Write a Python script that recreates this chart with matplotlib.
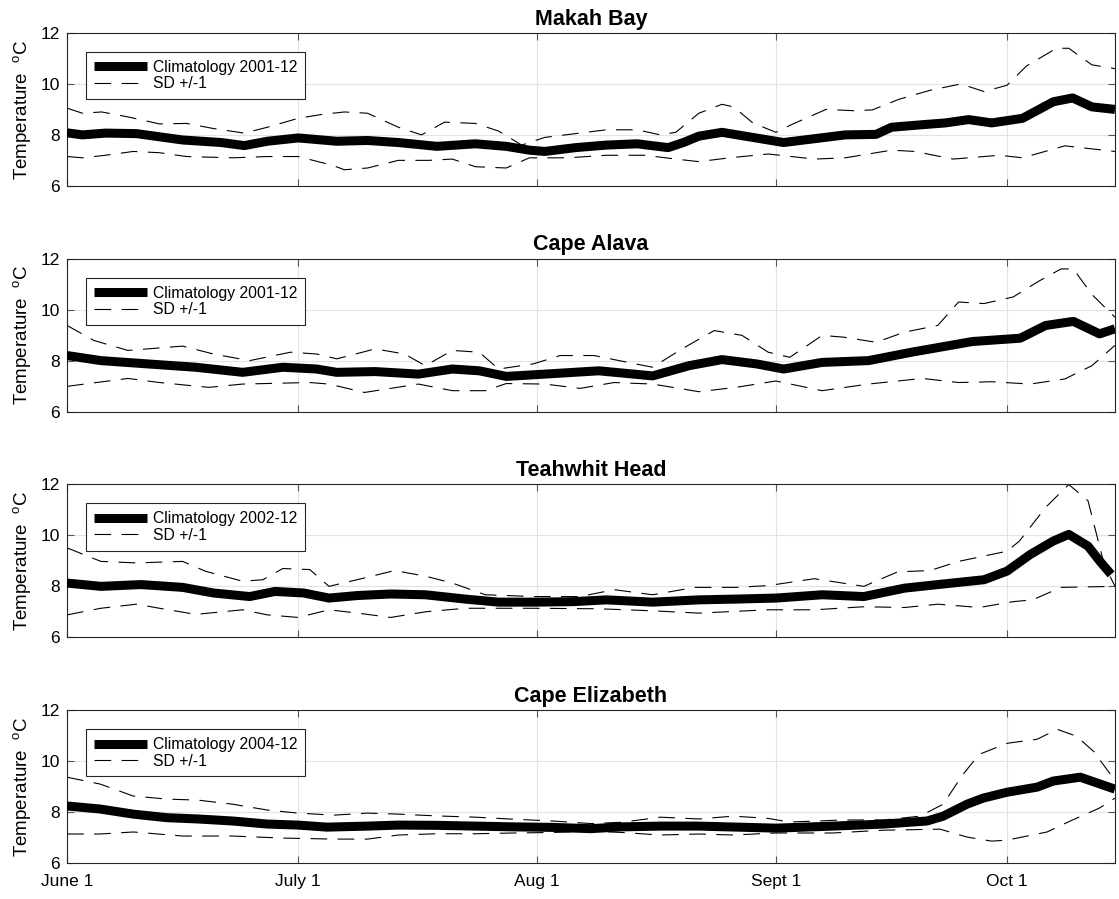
import matplotlib
matplotlib.use('Agg')
import matplotlib.pyplot as plt

plt.rcParams['font.family'] = ['Liberation Sans', 'DejaVu Sans']
plt.rcParams['mathtext.fontset'] = 'custom'
plt.rcParams['mathtext.rm'] = 'Liberation Sans'
plt.rcParams['lines.scale_dashes'] = False

# days since June 1
tick_days = [0, 30, 61, 92, 122]
tick_labels = ['June 1', 'July 1', 'Aug 1', 'Sept 1', 'Oct 1']

stations = ['Makah Bay', 'Cape Alava', 'Teahwhit Head', 'Cape Elizabeth']
periods = ['2001-12', '2001-12', '2002-12', '2004-12']

# Makah Bay
makah_mean_days = [0, 2, 5, 9, 15, 20, 23, 26, 30, 35, 39, 43, 48, 53, 57, 60, 62, 66, 70, 74, 78, 80, 82, 85,
                   88, 93, 97, 101, 105, 107, 111, 114, 117, 120, 124, 128, 130.5, 133, 136]
makah_mean = [8.08, 8.0, 8.07, 8.05, 7.8, 7.7, 7.58, 7.75, 7.88, 7.75, 7.78, 7.7, 7.55, 7.65, 7.55, 7.4, 7.35,
              7.5, 7.6, 7.65, 7.5, 7.7, 7.95, 8.1, 7.95, 7.7, 7.85, 8.0, 8.02, 8.3, 8.4, 8.47, 8.6, 8.47, 8.65,
              9.3, 9.45, 9.1, 9.0]
makah_up_days = [0, 2, 4.5, 8, 12, 15.5, 19, 23, 26, 30, 33, 36, 39, 43, 46, 49, 53, 56, 59, 62, 66, 70, 74,
                 77, 79, 82, 85, 86.5, 89, 92, 94, 98.5, 102, 104.5, 108, 112, 116, 119, 122, 124.5, 128.4, 130,
                 133, 136]
makah_up = [9.05, 8.85, 8.9, 8.7, 8.43, 8.45, 8.25, 8.07, 8.3, 8.65, 8.8, 8.9, 8.85, 8.3, 8.0, 8.5, 8.45, 8.15,
            7.6, 7.9, 8.05, 8.2, 8.2, 8.0, 8.1, 8.85, 9.2, 9.1, 8.47, 8.1, 8.4, 9.0, 8.95, 8.98, 9.4, 9.75,
            10.0, 9.7, 9.95, 10.7, 11.4, 11.4, 10.75, 10.6]
makah_lo_days = [0, 2, 5, 8.6, 12, 15.5, 21.6, 26, 30, 34.5, 36, 39, 43, 47, 50, 53, 57, 60, 65, 70, 75, 79,
                 82, 86, 91, 97, 101, 107, 110, 115, 121, 124, 129.5, 136]
makah_lo = [7.15, 7.1, 7.2, 7.35, 7.3, 7.15, 7.1, 7.15, 7.15, 6.8, 6.63, 6.7, 7.0, 7.0, 7.05, 6.75, 6.7, 7.1,
            7.1, 7.2, 7.2, 7.05, 6.95, 7.1, 7.25, 7.05, 7.1, 7.4, 7.35, 7.05, 7.2, 7.1, 7.57, 7.35]

# Cape Alava
alava_mean_days = [0, 4.4, 10.5, 16.7, 22.8, 28, 32.4, 35, 40, 45.6, 50, 53.5, 57, 62, 69, 76, 80.7, 85, 89.5,
                   93, 98, 104, 109.6, 117.5, 123.7, 127, 130.6, 134, 136]
alava_mean = [8.2, 8.0, 7.87, 7.74, 7.54, 7.74, 7.67, 7.54, 7.57, 7.47, 7.67, 7.6, 7.38, 7.47, 7.6, 7.4, 7.8,
              8.04, 7.87, 7.67, 7.93, 8.0, 8.33, 8.75, 8.88, 9.38, 9.54, 9.05, 9.25]
alava_up_days = [0, 3.5, 7.9, 15, 19, 23.7, 29, 32.4, 35, 40, 43.8, 46.5, 50, 53.5, 56, 60.5, 64, 68.4, 72.8,
                 76, 79.8, 84, 87.6, 91, 93.8, 98, 100.8, 105, 108.7, 113, 115.7, 119, 122.8, 126, 129,
                 130.6, 133, 136]
alava_up = [9.38, 8.79, 8.4, 8.57, 8.26, 8.0, 8.33, 8.26, 8.07, 8.46, 8.26, 7.8, 8.4, 8.33, 7.67, 7.87, 8.2,
            8.2, 7.93, 7.74, 8.46, 9.18, 8.99, 8.33, 8.13, 8.99, 8.92, 8.72, 9.12, 9.38, 10.3, 10.24, 10.5,
            11.1, 11.6, 11.6, 10.6, 9.7]
alava_lo_days = [0, 7.9, 12, 18.4, 22.8, 31.5, 34, 38.6, 45.6, 50, 54.3, 57, 62, 66.6, 71, 76, 82, 86.8, 92,
                 98, 104, 111, 115.7, 120, 125, 129.5, 133, 136]
alava_lo = [6.99, 7.3, 7.14, 6.95, 7.08, 7.14, 7.08, 6.75, 7.08, 6.82, 6.82, 7.1, 7.08, 6.91, 7.14, 7.08,
            6.78, 6.95, 7.2, 6.82, 7.08, 7.3, 7.14, 7.17, 7.08, 7.28, 7.8, 8.6]

# Teahwhit Head
teah_mean_days = [0, 4.4, 9.6, 15, 19, 23.7, 27, 30.7, 34, 37.7, 42, 46.5, 51.7, 56, 60.5, 65.7, 70, 76, 82,
                  86.8, 92, 98, 103.4, 108.7, 113, 119, 122, 125, 128, 130, 132.5, 134, 135.5]
teah_mean = [8.13, 8.0, 8.07, 7.96, 7.74, 7.6, 7.8, 7.74, 7.54, 7.64, 7.7, 7.67, 7.5, 7.38, 7.38, 7.4, 7.47,
             7.38, 7.47, 7.5, 7.54, 7.67, 7.6, 7.93, 8.07, 8.26, 8.6, 9.25, 9.78, 10.04, 9.58, 9.0, 8.47]
teah_up_days = [0, 4.4, 9, 15, 18, 22.8, 25.4, 28, 31.5, 34, 38.6, 42.5, 46.5, 50, 54.3, 60.5, 66.6, 71, 76,
                81.5, 86.8, 91, 97, 103.4, 107.8, 112, 115.7, 122, 123.6, 127, 130, 132.5, 134.6, 136]
teah_up = [9.51, 8.98, 8.92, 8.98, 8.59, 8.2, 8.26, 8.7, 8.66, 8.0, 8.33, 8.62, 8.4, 8.13, 7.67, 7.6, 7.6,
           7.87, 7.67, 7.96, 7.96, 8.03, 8.3, 8.0, 8.57, 8.62, 8.98, 9.38, 9.78, 11.1, 12.0, 11.36, 8.86, 8.0]
teah_lo_days = [0, 4.4, 9, 12, 16.7, 22.8, 26, 30, 34, 37.7, 42, 46.5, 51.7, 60.5, 69, 76, 82, 91, 97, 103.4,
                108.7, 113, 118.4, 122.8, 125.3, 129, 136]
teah_lo = [6.88, 7.14, 7.3, 7.14, 6.9, 7.08, 6.88, 6.78, 7.08, 6.95, 6.78, 7.0, 7.14, 7.14, 7.12, 7.04, 6.95,
           7.08, 7.08, 7.2, 7.17, 7.3, 7.17, 7.4, 7.47, 7.96, 8.0]

# Cape Elizabeth
eliz_mean_days = [0, 4.3, 8.6, 13, 17, 21.5, 26, 30, 33.7, 39, 43, 48, 53, 58, 63, 68, 72, 77, 82, 92, 99.4,
                  106, 111.6, 113.7, 116.8, 118.9, 122, 125.9, 128, 131.5, 136]
eliz_mean = [8.24, 8.12, 7.92, 7.78, 7.73, 7.65, 7.53, 7.49, 7.41, 7.45, 7.49, 7.48, 7.45, 7.42, 7.4, 7.35,
             7.42, 7.45, 7.45, 7.37, 7.45, 7.53, 7.65, 7.84, 8.31, 8.55, 8.78, 8.98, 9.22, 9.37, 8.9]
eliz_up_days = [0, 4.3, 8.6, 13, 17, 21.5, 26, 30, 34.6, 39, 43, 48, 53, 58, 63, 68, 72, 77, 82, 86.4, 90.8,
                93.8, 100.7, 106, 110.7, 113.7, 116.3, 118.4, 122, 125.9, 128.5, 131, 133.2, 135.4, 136]
eliz_up = [9.37, 9.1, 8.63, 8.51, 8.47, 8.31, 8.08, 7.96, 7.88, 7.96, 7.92, 7.85, 7.8, 7.72, 7.65, 7.55, 7.6,
           7.8, 7.73, 7.84, 7.76, 7.61, 7.69, 7.69, 7.84, 8.31, 9.49, 10.27, 10.7, 10.86, 11.25, 10.98, 10.39,
           9.49, 9.3]
eliz_lo_days = [0, 4.3, 8.6, 15, 21.5, 28, 34.6, 39, 43, 48, 53, 58, 63, 68, 72, 77, 82, 86.4, 92, 99.4, 106,
                113.3, 116.8, 120, 122, 127.2, 130.2, 134, 136]
eliz_lo = [7.14, 7.14, 7.22, 7.06, 7.06, 6.98, 6.94, 6.94, 7.1, 7.15, 7.15, 7.18, 7.2, 7.25, 7.2, 7.1, 7.14,
           7.1, 7.18, 7.18, 7.29, 7.33, 7.02, 6.86, 6.9, 7.22, 7.65, 8.16, 8.55]

series = [
    (makah_mean_days, makah_mean, makah_up_days, makah_up, makah_lo_days, makah_lo),
    (alava_mean_days, alava_mean, alava_up_days, alava_up, alava_lo_days, alava_lo),
    (teah_mean_days, teah_mean, teah_up_days, teah_up, teah_lo_days, teah_lo),
    (eliz_mean_days, eliz_mean, eliz_up_days, eliz_up, eliz_lo_days, eliz_lo),
]

fig, axes = plt.subplots(4, 1, figsize=(11.19, 8.99), dpi=100, sharex=True)
fig.subplots_adjust(left=0.0599, right=0.9964, top=0.9633, bottom=0.040, hspace=0.477)

dash = (0, (12, 7.5))
for i, ax in enumerate(axes):
    md, mv, ud, uv, ld, lv = series[i]
    ax.plot(md, mv, color='black', lw=6.5, solid_capstyle='butt',
            label='Climatology ' + periods[i], zorder=3)
    ax.plot(ud, uv, color='black', lw=0.8, linestyle=dash, label='SD +/-1', zorder=2)
    ax.plot(ld, lv, color='black', lw=0.8, linestyle=dash, zorder=2)

    ax.set_xlim(0, 136)
    ax.set_ylim(6, 12)
    ax.set_yticks([6, 8, 10, 12])
    ax.set_xticks(tick_days)
    ax.grid(True, color='#e3e3e3', lw=0.8)
    ax.set_axisbelow(True)
    ax.tick_params(direction='in', length=5, width=0.8, color='#555555',
                   top=True, right=True, labelsize=12.5)
    ax.tick_params(axis='y', pad=5)
    ax.tick_params(axis='x', pad=8)
    for s in ax.spines.values():
        s.set_color('#262626')
        s.set_linewidth(0.8)
    ax.set_title(stations[i], fontsize=15.5, fontweight='bold', pad=6)
    ax.set_ylabel(r'Temperature  $^{\mathrm{o}}$C', fontsize=13.5, labelpad=5)

    leg = ax.legend(loc='upper left', bbox_to_anchor=(0.018, 0.876), borderaxespad=0,
                    fontsize=11.3, handlelength=3.4, handletextpad=0.35, fancybox=False,
                    framealpha=1, edgecolor='#262626', borderpad=0.5, labelspacing=0.1)
    leg.get_frame().set_linewidth(0.8)

axes[-1].set_xticklabels(tick_labels)

plt.savefig('out.png', dpi=100)
